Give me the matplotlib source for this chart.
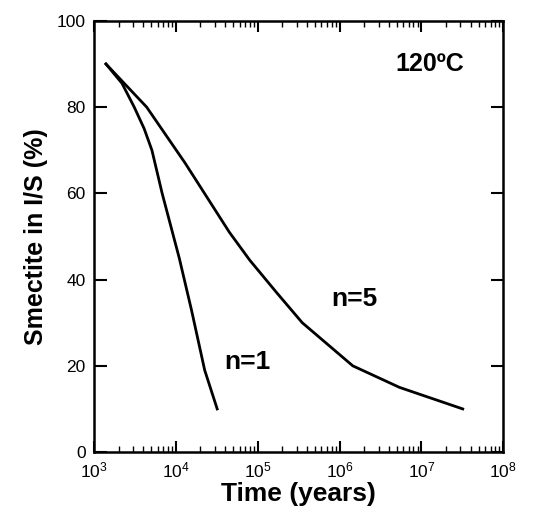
import numpy as np
import matplotlib
matplotlib.use("Agg")
import matplotlib.pyplot as plt
from matplotlib.ticker import LogLocator, FixedLocator

plt.rcParams['font.family'] = ['Liberation Sans', 'DejaVu Sans']

# curves: time (years) vs smectite in I/S (%)
n1_time = [1.4e3, 2.2e3, 3.1e3, 4.1e3, 5.1e3, 6.8e3, 1.1e4, 1.55e4, 2.25e4, 3.2e4]
n1_smectite = [90, 85.5, 80, 75, 70, 60, 45, 33, 19, 10]

n5_time = [1.4e3, 4.4e3, 1.3e4, 4.5e4, 8.0e4, 1.7e5, 3.5e5, 1.45e6, 5.4e6, 3.2e7]
n5_smectite = [90, 80, 67, 51, 44.5, 37, 30, 20, 15, 10]

fig = plt.figure(figsize=(5.53, 5.22), dpi=100)
ax = fig.add_axes([0.170, 0.134, 0.740, 0.826])

ax.plot(n1_time, n1_smectite, color='black', lw=2.0)
ax.plot(n5_time, n5_smectite, color='black', lw=2.0)

ax.set_xscale('log')
ax.set_xlim(1e3, 1e8)
ax.set_ylim(0, 100)
ax.yaxis.set_major_locator(FixedLocator([0, 20, 40, 60, 80, 100]))
ax.xaxis.set_major_locator(LogLocator(base=10, numticks=10))
ax.xaxis.set_minor_locator(LogLocator(base=10, subs=np.arange(2, 10), numticks=20))

ax.tick_params(which='both', direction='in', top=True, right=True, labelsize=12.5)
ax.tick_params(which='major', length=8, width=1.5, pad=6)
ax.tick_params(which='minor', length=4, width=1.0)
ax.tick_params(axis='y', which='major', length=9)
for s in ax.spines.values():
    s.set_linewidth(1.8)

ax.set_xlabel('Time (years)', fontsize=19, fontweight='bold', labelpad=1)
ax.set_ylabel('Smectite in I/S (%)', fontsize=18, fontweight='bold', labelpad=6)

ax.text(1.25e7, 90, '120ºC', fontsize=18, fontweight='bold', ha='center', va='center')
ax.text(1.5e6, 35.5, 'n=5', fontsize=19, fontweight='bold', ha='center', va='center')
ax.text(7.4e4, 21, 'n=1', fontsize=19, fontweight='bold', ha='center', va='center')

fig.savefig('out.png', dpi=100)
